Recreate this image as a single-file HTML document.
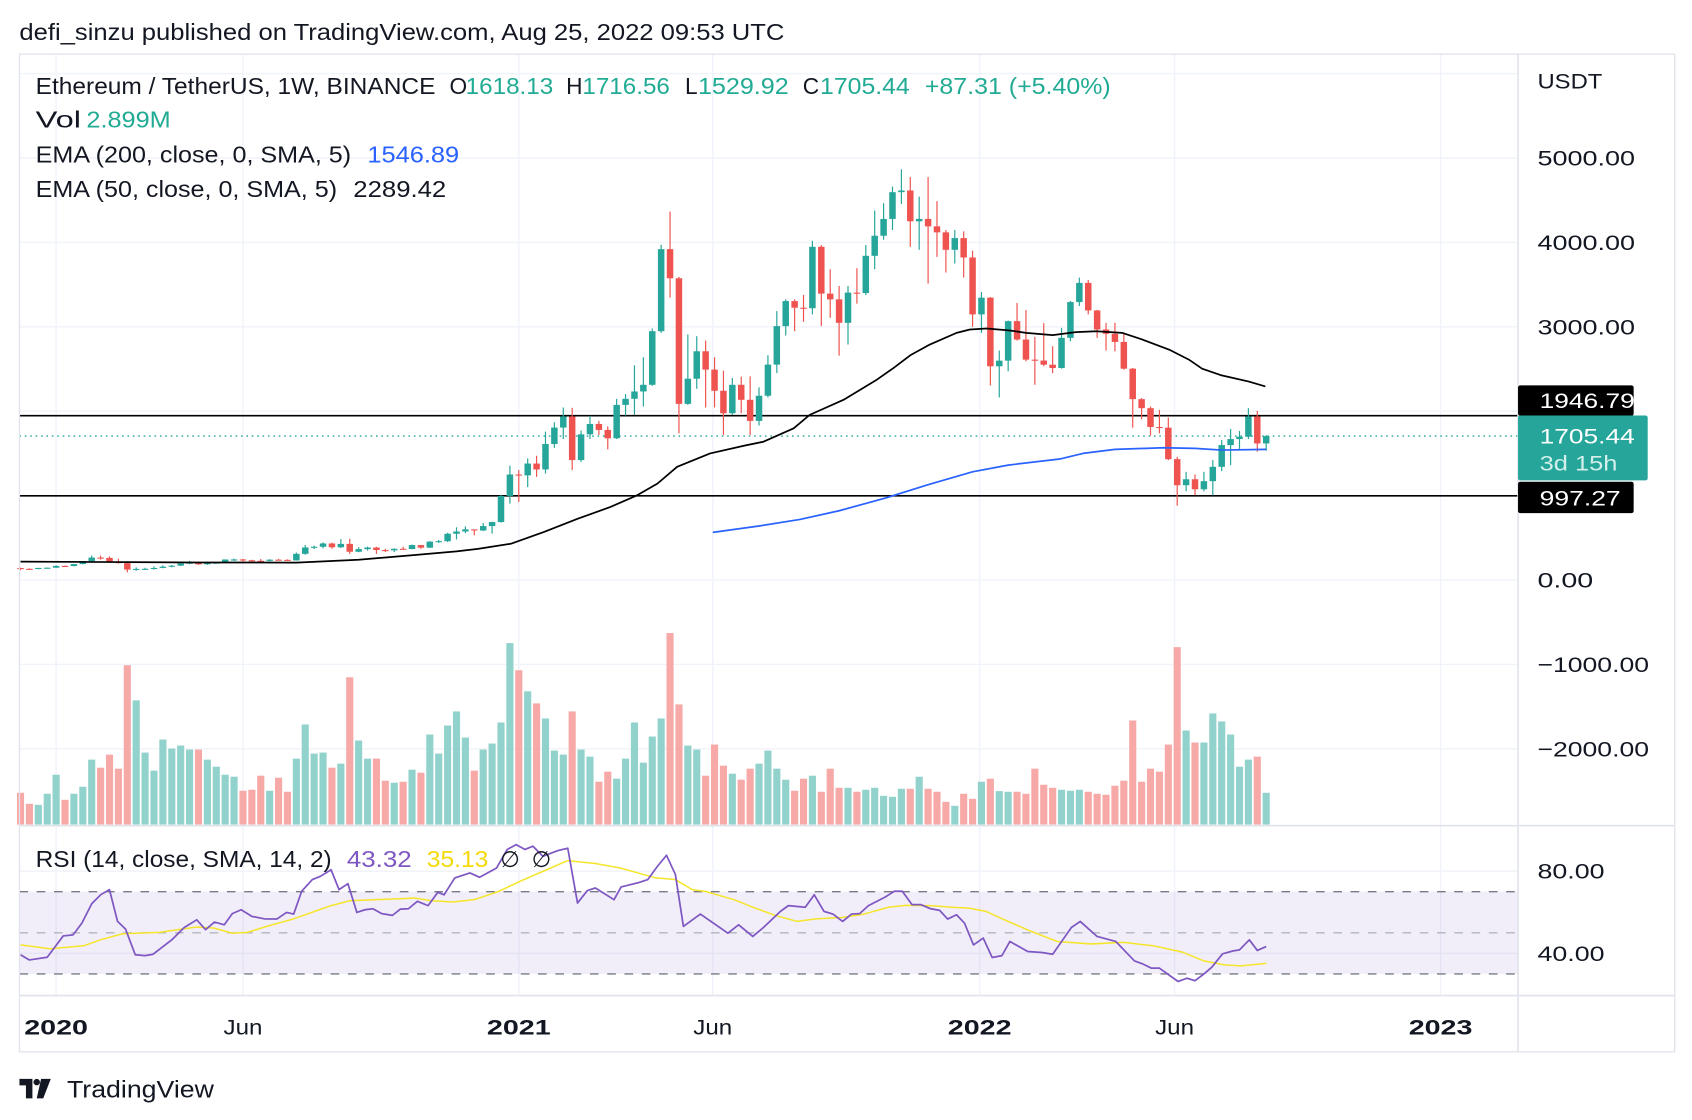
<!DOCTYPE html>
<html><head><meta charset="utf-8"><style>
html,body{margin:0;padding:0;background:#fff;}
svg{display:block;font-family:"Liberation Sans",Arial,sans-serif;}
</style></head><body>
<svg id="chart" width="1692" height="1120" viewBox="0 0 1566 1035" preserveAspectRatio="none" xmlns="http://www.w3.org/2000/svg">
<rect x="0" y="0" width="1566" height="1035" fill="#fff"/>
<text x="18" y="37" font-size="21" fill="#131722" textLength="708" lengthAdjust="spacingAndGlyphs">defi_sinzu published on TradingView.com, Aug 25, 2022 09:53 UTC</text>
<g id="grid"></g>
<rect x="18" y="824" width="1387" height="76" fill="#7e57c2" fill-opacity="0.1"/>
<g id="rsiLevels"></g>
<g id="vol"></g>
<g id="hlines"></g>
<g id="candles"></g>
<g id="emas"></g>
<g id="rsi"></g>
<g id="frame">
<rect x="18" y="50" width="1532" height="922" fill="none" stroke="#e0e3eb" stroke-width="1.2"/>
<line x1="1405" y1="50" x2="1405" y2="972" stroke="#e0e3eb" stroke-width="1.5"/>
<line x1="18" y1="763" x2="1550" y2="763" stroke="#e0e3eb" stroke-width="1.5"/>
<line x1="18" y1="920" x2="1550" y2="920" stroke="#e0e3eb" stroke-width="1.5"/>
</g>
<g id="legend" font-size="21">
<text y="87"><tspan x="33" fill="#131722" textLength="370" lengthAdjust="spacingAndGlyphs">Ethereum / TetherUS, 1W, BINANCE</tspan><tspan x="416" fill="#131722">O</tspan><tspan x="431" fill="#22ab94" textLength="81" lengthAdjust="spacingAndGlyphs">1618.13</tspan><tspan x="524" fill="#131722">H</tspan><tspan x="539" fill="#22ab94" textLength="81" lengthAdjust="spacingAndGlyphs">1716.56</tspan><tspan x="634" fill="#131722">L</tspan><tspan x="646" fill="#22ab94" textLength="84" lengthAdjust="spacingAndGlyphs">1529.92</tspan><tspan x="743" fill="#131722">C</tspan><tspan x="759" fill="#22ab94" textLength="83" lengthAdjust="spacingAndGlyphs">1705.44</tspan><tspan x="856" fill="#22ab94" textLength="172" lengthAdjust="spacingAndGlyphs">+87.31 (+5.40%)</tspan></text>
<text y="118"><tspan x="33" fill="#131722" textLength="42" lengthAdjust="spacingAndGlyphs">Vol</tspan><tspan x="80" fill="#22ab94" textLength="78" lengthAdjust="spacingAndGlyphs">2.899M</tspan></text>
<text y="150"><tspan x="33" fill="#131722" textLength="292" lengthAdjust="spacingAndGlyphs">EMA (200, close, 0, SMA, 5)</tspan><tspan x="340" fill="#2962ff" textLength="85" lengthAdjust="spacingAndGlyphs">1546.89</tspan></text>
<text y="182"><tspan x="33" fill="#131722" textLength="279" lengthAdjust="spacingAndGlyphs">EMA (50, close, 0, SMA, 5)</tspan><tspan x="327" fill="#131722" textLength="86" lengthAdjust="spacingAndGlyphs">2289.42</tspan></text>
<text y="801"><tspan x="33" fill="#131722" textLength="274" lengthAdjust="spacingAndGlyphs">RSI (14, close, SMA, 14, 2)</tspan><tspan x="321" fill="#7e57c2" textLength="60" lengthAdjust="spacingAndGlyphs">43.32</tspan><tspan x="395" fill="#f5d90a" textLength="57" lengthAdjust="spacingAndGlyphs">35.13</tspan><tspan x="463" fill="#131722">∅</tspan><tspan x="492" fill="#131722">∅</tspan></text>
</g>
<g id="yaxis" font-size="20" fill="#131722"></g>
<g id="xaxis" font-size="20" fill="#131722"></g>
<g id="tags" font-size="20"></g>
<g>
<path d="M18 997h12v18h-6v-12h-6z M38 997h9l-7 18h-6z" fill="#131722"/>
<circle cx="34" cy="1000" r="3" fill="#131722"/>
<text x="62" y="1014" font-size="22" fill="#131722" textLength="136" lengthAdjust="spacingAndGlyphs">TradingView</text>
</g>
</svg>
<script>
const opens=[142,133,131,143,146,167,166,189,223,266,262,218,200,124,132,133,143,158,170,197,206,186,200,206,243,244,234,228,227,241,239,232,310,386,394,433,388,428,335,366,385,355,352,370,367,414,383,455,460,548,575,600,587,639,687,996,1250,1240,1380,1310,1611,1806,1937,1421,1726,1849,1778,1679,2075,2147,2234,2313,2948,3920,3575,2087,2385,2710,2493,2242,1976,2313,2135,1885,2183,2552,3008,3305,3226,3220,3948,3393,3325,3047,3405,3400,3841,4079,4278,4595,4615,4250,4278,4190,4119,3912,4051,3821,3147,3345,2532,2599,3067,2849,2611,2600,2551,2512,2869,3293,3520,3194,2968,2917,2821,2504,2143,2036,1813,1805,1432,1123,1194,1075,1171,1341,1599,1670,1698,1937,1618.13];
const highs=[147,138,145,148,175,172,190,225,290,288,280,253,202,150,145,162,175,178,198,227,215,210,215,245,253,250,240,249,247,250,245,326,415,408,446,443,485,488,388,395,393,370,375,395,420,416,460,475,560,625,635,600,675,690,1010,1354,1302,1440,1472,1758,1870,2044,2040,1770,1945,1885,1820,2147,2202,2544,2639,2980,3972,4365,3590,2909,2889,2837,2639,2480,2393,2409,2413,2282,2663,3186,3325,3325,3377,4020,3968,3682,3484,3484,3694,3968,4377,4464,4662,4865,4774,4543,4774,4488,4147,4147,4131,3901,3412,3353,2718,3075,3282,3198,2881,3043,2770,2988,3305,3583,3555,3200,3047,3047,2928,2512,2155,2056,2016,1925,1460,1282,1250,1282,1421,1660,1790,1766,2036,2004,1716.56];
const lows=[117,124,127,135,143,155,160,186,220,242,210,195,90,110,125,125,140,150,165,187,180,180,196,198,225,218,219,216,220,235,226,230,300,367,375,370,380,310,330,350,310,332,330,360,365,370,380,440,450,480,555,530,580,550,680,905,925,1100,1222,1262,1567,1671,1302,1400,1671,1718,1548,1670,1948,1956,2056,2300,2928,3345,1738,2075,2266,2044,2044,1718,1956,1976,1718,1830,2163,2452,2897,2948,3059,3147,3008,3107,2659,2790,3274,3377,3682,4032,4147,4456,3948,3912,3512,3829,3643,3750,3583,3000,2928,2305,2163,2472,2837,2591,2313,2532,2452,2504,2829,3246,3147,2869,2718,2710,2492,1805,1905,1710,1738,1420,881,1052,1004,1050,1004,1290,1361,1540,1671,1520,1529.92];
const closes=[133,131,143,146,167,166,189,223,266,262,218,200,124,132,133,143,158,170,197,206,186,200,206,243,244,234,228,227,241,239,232,310,386,394,433,388,428,335,366,385,355,352,370,367,414,383,455,460,548,575,600,587,639,687,996,1250,1240,1380,1310,1611,1806,1937,1421,1726,1849,1778,1679,2075,2147,2234,2313,2948,3920,3575,2087,2385,2710,2493,2242,1976,2313,2135,1885,2183,2552,3008,3305,3226,3220,3948,3393,3325,3047,3405,3400,3841,4079,4278,4595,4615,4250,4278,4190,4119,3912,4051,3821,3147,3345,2532,2599,3067,2849,2611,2600,2551,2512,2869,3293,3520,3194,2968,2917,2821,2504,2143,2036,1813,1805,1432,1123,1194,1075,1171,1341,1599,1670,1698,1937,1618.13,1705.44];
const volumes=[95,62,59,92,149,74,92,113,194,170,209,167,476,371,215,161,254,227,236,224,224,194,173,149,143,101,104,146,101,140,98,197,299,212,215,170,182,440,251,197,197,131,125,128,164,155,269,212,296,338,260,161,224,242,305,542,461,398,362,317,221,209,338,224,203,128,158,137,197,305,185,263,317,572,359,236,224,146,239,176,152,134,167,182,221,167,134,101,137,146,98,167,110,110,98,104,110,86,83,107,107,143,107,98,68,56,92,77,128,137,100,98,98,92,167,119,110,104,101,104,98,92,89,116,131,311,128,167,158,239,530,281,245,245,332,308,269,173,194,203,95];
const ema50Week=[0,10,20,31,38,44,49,51.4,55.1,58.8,62.6,66.3,69.3,71.6,73.8,77.5,81.3,83.5,86.9,88.7,92.5,96.2,98.1,100,102.2,105.2,106.7,108.6,111.2,113,116,118.6,120.9,123.8,126.1,129.1,131.3,132.8,135,138,139.9];
const ema50Val=[218,213,208,206,240,293,340,369,429,568,726,865,1004,1143,1341,1500,1591,1639,1798,1956,2135,2370,2512,2663,2790,2928,2968,2980,2956,2928,2901,2937,2948,2928,2849,2730,2611,2504,2425,2353,2294];
const ema200Week=[77.8,83,87.6,92,97.3,102,107,111,116.8,119.4,123,128.4,132,135,140];
const ema200Val=[564,640,718,820,974,1130,1282,1361,1433,1500,1548,1567,1560,1540,1548];
const rsiWeek=[0,1,3,4.8,5.9,6.9,8,9,10,10.9,11.8,12.9,14,14.9,17,18.4,19.8,20.8,21.8,22.9,23.8,24.8,26,27.4,28.8,29.9,30.7,31.6,32.8,33.7,34.9,35.8,36.8,37.8,38.7,39.6,40.6,41.8,42.7,43.6,44.6,45.8,46.9,47.6,48.8,50.5,51.6,53.5,54.7,55.7,56.7,57.6,58.7,60.4,61.5,62.6,63.7,64.6,66.7,67.5,69.3,70.5,71.6,72.6,73.6,74.5,76.4,79.5,80.7,82.3,83.5,85.4,86.3,88.2,89.2,90.3,91.3,92.4,93.4,94.3,95.3,97.2,98.2,99.1,100.2,101.2,102.3,103.3,104.2,105.2,106.1,107.1,108.2,109.2,110.3,111.2,113.2,114.8,116,118.1,119.1,121,123.1,125.2,126.1,127.1,128,130.1,131.1,132,133,133.9,135.1,136.3,137,138.1,139,140];
const rsiVal=[39.3,36.8,38.1,48.5,49,54.7,64.1,68.5,71,55.5,51.8,39.3,38.9,39.6,46.6,52.6,56.3,51.5,55.2,53.9,59.3,61.2,58,56.8,56.7,59.9,59.1,70.2,75.9,77.5,80.7,71,73.9,59.9,61.2,61.7,59.3,58.5,61.5,61.7,65.3,63.2,69.7,68.5,76.7,79.1,77,81.5,90.5,92.9,90.5,92.1,87.2,90,91.1,64.5,70.5,71.8,66.1,72.3,74.2,75.9,82.4,87.7,78.3,53.1,59.1,49.8,53.9,48.2,52.6,60.4,63.2,62.4,68.5,60.4,59.1,55.5,59.1,59.3,63.2,67.4,70.2,70.2,63.7,63.7,61.7,60.9,56.7,58.8,54.7,44.1,47.4,38,38.9,45.8,40.9,40.4,39.6,52.6,55.5,48.2,45.8,36.3,34.9,32.8,32.8,26.3,27.9,26.7,30,33.3,39.8,41.2,41.7,46.6,41.4,43.32];
const rsiSmaWeek=[0,3.3,7.1,9,11.4,15.6,19.8,21.7,23.8,25.5,27.9,30.7,34.9,37,44.3,46.2,48.6,51,53.8,56.1,59,61.5,64.6,67.4,71.4,73.6,75.5,76.9,80.2,82.3,84.9,87.3,89.4,92.4,94.8,97.6,99.5,102.3,104.7,106.6,108.5,110.8,113.6,116.5,120.3,124,127.3,130.6,133,135.3,137.2,140];
const rsiSmaVal=[44.1,42.2,43.7,46.6,49.5,50.2,52.8,52.3,49.8,50.2,53.4,56.8,63.2,65.6,66.9,65.6,65,66.1,70.2,75,80.4,85.1,83.7,81.5,76.7,75.9,71,70.2,66.1,62.5,58.3,55.5,56.8,57.5,59.1,62.5,63.3,63.2,62.4,62,60.4,55.9,50.7,45.8,44.6,45.3,43.7,40.6,36.3,34.4,33.9,35.13];
const priceTicks=[5000,4000,3000,0,-1000,-2000];
const priceGrid=[6000,5000,4000,3000,2000,1000,0,-1000,-2000];
const rsiTicks=[80,40];
const rsiDashed=[70,50,30];
const timeTickWeek=[4,25,56,77.8,107.8,129.7,159.6];
const timeTickLabel=["2020","Jun","2021","Jun","2022","Jun","2023"];
const timeTickBold=[true,false,true,false,true,false,true];
const hLevels=[1946.79,997.27];
const lastPrice=1705.44;

const NS="http://www.w3.org/2000/svg";
function xOf(i){return 19+8.235*i;}
function yP(p){return 536-p*0.078;}
function yR(r){return 881-(r-40)*1.9;}
function yV(v){return 762-v*0.3094;}
function mk(tag,attrs,parent){const e=document.createElementNS(NS,tag);for(const k in attrs)e.setAttribute(k,attrs[k]);parent.appendChild(e);return e;}
const UP="#26a69a",DN="#ef5350";

const grid=document.getElementById('grid');
priceGrid.forEach(p=>{const l=mk('line',{x1:18,x2:1405,y1:yP(p),y2:yP(p),stroke:'#f0f3fa','stroke-width':1.3},grid);

});
rsiTicks.forEach(r=>{const l=mk('line',{x1:18,x2:1405,y1:yR(r),y2:yR(r),stroke:'#f0f3fa','stroke-width':1.3},grid);

});
timeTickWeek.forEach(w=>{const l=mk('line',{x1:xOf(w),x2:xOf(w),y1:50,y2:920,stroke:'#f0f3fa','stroke-width':1.3},grid);

});

const rl=document.getElementById('rsiLevels');
rsiDashed.forEach(r=>{const l=mk('line',{x1:18,x2:1405,y1:yR(r),y2:yR(r),stroke:r===50?'#b2b5be':'#787b86','stroke-width':1.3,'stroke-dasharray':'8 8'},rl);

});

const vol=document.getElementById('vol');
volumes.forEach((v,i)=>{const up=closes[i]>=opens[i];
const b=mk('rect',{x:xOf(i)-3.3,y:yV(v),width:6.6,height:762-yV(v),fill:up?'#92d2cc':'#f7a9a7'},vol);

});

const hl=document.getElementById('hlines');
hLevels.forEach(p=>{const l=mk('line',{x1:18,x2:1405,y1:yP(p),y2:yP(p),stroke:'#000','stroke-width':1.5},hl);

});
const lp=mk('line',{x1:18,x2:1405,y1:yP(lastPrice),y2:yP(lastPrice),stroke:UP,'stroke-width':1.3,'stroke-dasharray':'1.5 3.5'},hl);



const cg=document.getElementById('candles');
closes.forEach((c,i)=>{const o=opens[i],up=c>=o,col=up?UP:DN,x=xOf(i);
const w=mk('line',{x1:x,x2:x,y1:yP(highs[i]),y2:yP(lows[i]),stroke:col,'stroke-width':1.1},cg);


const top=Math.min(yP(o),yP(c)),h=Math.max(1,Math.abs(yP(o)-yP(c)));
const b=mk('rect',{x:x-3,y:top,width:6,height:h,fill:col},cg);

});

function poly(weeks,vals,yf,col,sw,parent,name){const pts=weeks.map((w,k)=>xOf(w).toFixed(1)+','+yf(vals[k]).toFixed(1)).join(' ');
const p=mk('polyline',{points:pts,fill:'none',stroke:col,'stroke-width':sw,'stroke-linejoin':'round'},parent);

}
const em=document.getElementById('emas');
poly(ema50Week,ema50Val,yP,'#000',1.6,em,'ema50-line');
poly(ema200Week,ema200Val,yP,'#2962ff',1.6,em,'ema200-line');
const rg=document.getElementById('rsi');
poly(rsiSmaWeek,rsiSmaVal,yR,'#f5e52a',1.4,rg,'rsi-sma-line');
poly(rsiWeek,rsiVal,yR,'#7e57c2',1.6,rg,'rsi-line');

function fit(t,len){t.setAttribute('textLength',len);t.setAttribute('lengthAdjust','spacingAndGlyphs');}
const ya=document.getElementById('yaxis');
const u=mk('text',{x:1423,y:82},ya);u.textContent='USDT';fit(u,60);


priceTicks.forEach(p=>{const t=mk('text',{x:1423,y:yP(p)+7},ya);t.textContent=(p<0?'\u2212':'')+Math.abs(p).toFixed(2);fit(t,t.textContent.length*12.9);

});
rsiTicks.forEach(r=>{const t=mk('text',{x:1423,y:yR(r)+7},ya);t.textContent=r.toFixed(2);fit(t,62);

});

const xa=document.getElementById('xaxis');
timeTickWeek.forEach((w,k)=>{const t=mk('text',{x:xOf(w),y:956,'text-anchor':'middle','font-weight':timeTickBold[k]?'bold':'normal'},xa);t.textContent=timeTickLabel[k];fit(t,timeTickBold[k]?59:36);

});

const tg=document.getElementById('tags');
function tag(y0,h,w,fill,lines,name){const g=mk('g',{},tg);


mk('rect',{x:1405,y:y0,width:w,height:h,rx:2,fill:fill},g);
lines.forEach(L=>{const t=mk('text',{x:1425,y:L[0],fill:L[2]},g);t.textContent=L[1];fit(t,L[3]);});}
tag(yP(hLevels[0])-28,28,107,'#000',[[yP(hLevels[0])-7,hLevels[0].toFixed(2),'#fff',88]],'level-tag-high');
tag(yP(lastPrice)-19,60,120,UP,[[yP(lastPrice)+7,lastPrice.toFixed(2),'#fff',88],[yP(lastPrice)+32,'3d 15h','#d3efeb',72]],'last-price-tag');
tag(yP(hLevels[1])-13,29,107,'#000',[[yP(hLevels[1])+9,hLevels[1].toFixed(2),'#fff',75]],'level-tag-low');
</script>
</body></html>
